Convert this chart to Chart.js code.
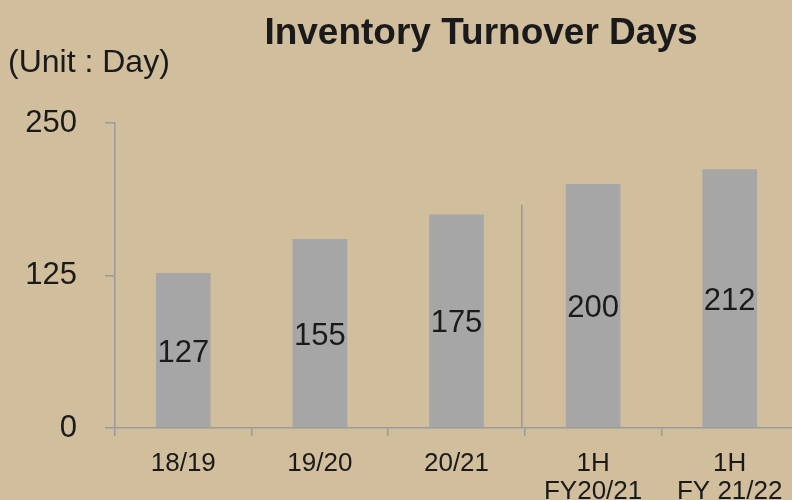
<!DOCTYPE html>
<html>
<head>
<meta charset="utf-8">
<script src="https://cdn.jsdelivr.net/npm/chart.js@4"></script>
<style>
  html, body { margin: 0; padding: 0; overflow: hidden; background: #D1BE9C; }
  #wrap { position: relative; width: 792px; height: 500px; overflow: hidden; }
  #title { position: absolute; left: 0; width: 962px; top: 11px; text-align: center;
           font: bold 37px "Liberation Sans", Arial, sans-serif; color: #1a1a1a; }
  #unit { position: absolute; left: 8px; top: 43px;
          font: 32px "Liberation Sans", Arial, sans-serif; color: #1a1a1a; }
  canvas { position: absolute; left: 0; top: 0; }
</style>
</head>
<body>
<div id="wrap">
  <canvas id="turnoverChart" width="812" height="500"></canvas>
  <div id="title">Inventory Turnover Days</div>
  <div id="unit">(Unit : Day)</div>
</div>
<script>
// Chart data
const categories = ["18/19", "19/20", "20/21", ["1H", "FY20/21"], ["1H", "FY 21/22"]];
const turnoverDays = [127, 155, 175, 200, 212];
const yTicks = [0, 125, 250];

// Value labels drawn in the middle of each bar
const barLabels = {
    id: "barLabels",
    afterDatasetsDraw(chart) {
        const ctx = chart.ctx;
        const meta = chart.getDatasetMeta(0);
        ctx.save();
        ctx.font = "31px 'Liberation Sans', Arial, sans-serif";
        ctx.fillStyle = "#1a1a1a";
        ctx.textAlign = "center";
        ctx.textBaseline = "middle";
        meta.data.forEach((bar, i) => {
            ctx.fillText(turnoverDays[i], bar.x, (bar.y + bar.base) / 2 + 3);
        });
        ctx.restore();
    }
};

// Separator between full years and half years
const separator = {
    id: "separator",
    afterDatasetsDraw(chart) {
        const ctx = chart.ctx;
        const x = chart.scales.x.getPixelForValue(2.5) - 3;
        const top = chart.scales.y.getPixelForValue(183);
        const bottom = chart.scales.y.getPixelForValue(0);
        ctx.save();
        ctx.strokeStyle = "#9a9a9a";
        ctx.lineWidth = 1.5;
        ctx.beginPath();
        ctx.moveTo(x, top);
        ctx.lineTo(x, bottom);
        ctx.stroke();
        ctx.restore();
    }
};

Chart.defaults.font.family = "'Liberation Sans', Arial, sans-serif";
Chart.defaults.color = "#1a1a1a";

const ctx = document.getElementById("turnoverChart").getContext("2d");
new Chart(ctx, {
    type: "bar",
    data: {
        labels: categories,
        datasets: [
            {
                label: "Inventory Turnover Days",
                data: turnoverDays,
                backgroundColor: "#a6a6a6",
                borderWidth: 0,
                categoryPercentage: 1,
                barPercentage: 0.4,
            },
        ],
    },
    options: {
        responsive: false,
        animation: false,
        devicePixelRatio: 1,
        layout: { padding: { top: 123, right: 14, left: 0, bottom: 0 } },
        plugins: {
            legend: { display: false },
            tooltip: { enabled: false },
            title: { display: false },
        },
        scales: {
            x: {
                grid: { offset: true, drawOnChartArea: false, tickLength: 8, color: "#9a9a9a", lineWidth: 1.5 },
                border: { color: "#9a9a9a", width: 1.5 },
                ticks: { font: { size: 26, lineHeight: 1.08 }, padding: 14, maxRotation: 0, autoSkip: false },
                afterFit(scale) { scale.height = 72; },
            },
            y: {
                min: 0,
                max: 250,
                afterBuildTicks(scale) { scale.ticks = yTicks.map(v => ({ value: v })); },
                grid: { drawOnChartArea: false, tickLength: 10, color: "#9a9a9a", lineWidth: 1.5 },
                border: { color: "#9a9a9a", width: 1.5 },
                ticks: { font: { size: 31 }, padding: 28 },
                afterFit(scale) { scale.width = 115; },
            },
        },
    },
    plugins: [barLabels, separator],
});
</script>
</body>
</html>
